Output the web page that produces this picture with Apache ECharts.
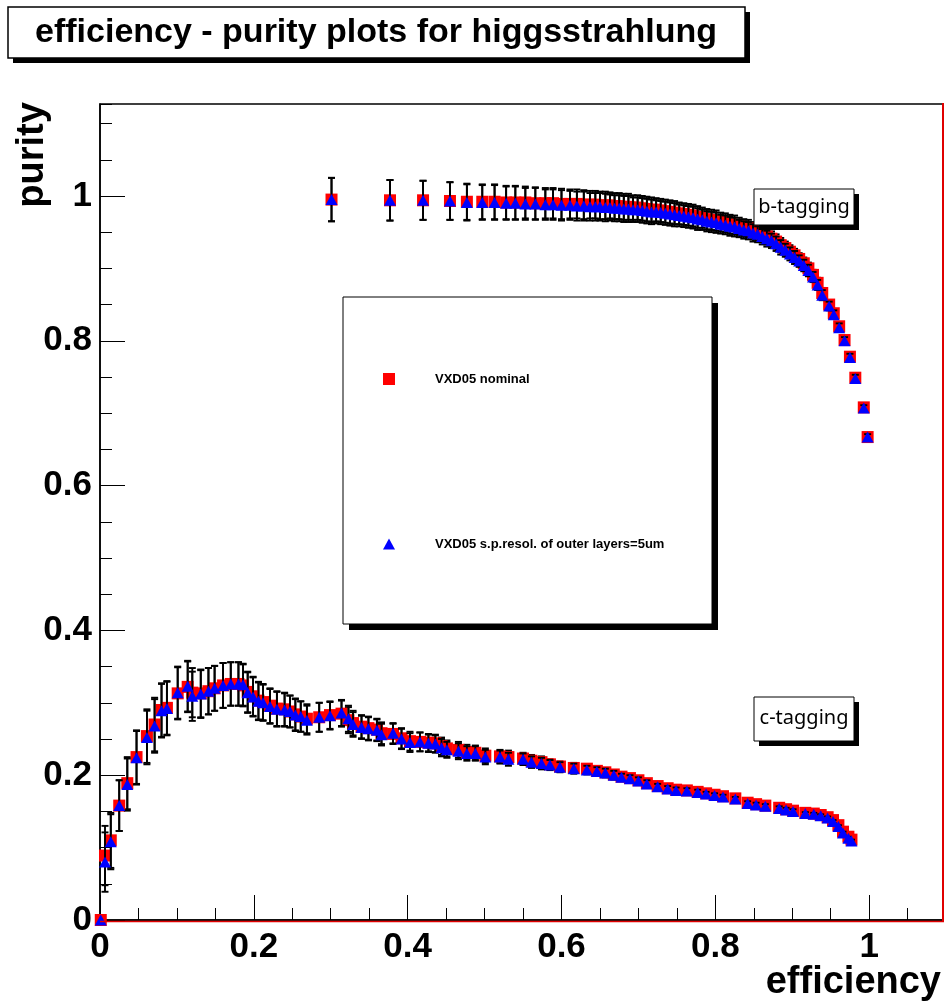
<!DOCTYPE html>
<html><head><meta charset="utf-8">
<script src="https://cdn.jsdelivr.net/npm/echarts@6/dist/echarts.min.js"></script>
<style>html,body{margin:0;padding:0;background:#fff}#c{width:946px;height:1005px}</style>
</head><body><div id="c"></div>
<script>
// ---- data ----
const titleText = 'efficiency - purity plots for higgsstrahlung';
const xTitle = 'efficiency';
const yTitle = 'purity';
const seriesNames = ['VXD05 nominal', 'VXD05 s.p.resol. of outer layers=5um'];

const bEff = [0.301,0.377,0.420,0.455,0.477,0.497,0.513,0.528,0.540,0.553,
  0.566,0.579,0.589,0.600,0.611,0.620,0.629,0.637,0.644,0.650,
  0.657,0.663,0.669,0.675,0.681,0.687,0.693,0.699,0.705,0.711,
  0.717,0.723,0.729,0.735,0.741,0.747,0.753,0.759,0.765,0.771,
  0.777,0.783,0.789,0.795,0.801,0.807,0.813,0.819,0.825,0.831,
  0.837,0.843,0.849,0.855,0.861,0.867,0.873,0.879,0.885,0.891,
  0.897,0.903,0.909,0.915,0.921,0.927,0.933,0.939,0.948,0.954,
  0.961,0.968,0.975,0.982,0.993,0.998];
const bPurNominal = [0.995,0.994,0.994,0.993,0.992,0.992,0.992,0.991,0.991,0.991,
  0.990,0.990,0.990,0.989,0.989,0.989,0.988,0.988,0.988,0.987,
  0.987,0.987,0.986,0.986,0.985,0.985,0.984,0.984,0.983,0.982,
  0.981,0.981,0.980,0.979,0.978,0.977,0.976,0.975,0.974,0.973,
  0.971,0.970,0.968,0.967,0.966,0.964,0.963,0.961,0.960,0.958,
  0.956,0.955,0.952,0.950,0.947,0.944,0.941,0.937,0.932,0.928,
  0.923,0.918,0.913,0.907,0.900,0.891,0.880,0.866,0.850,0.838,
  0.820,0.801,0.778,0.749,0.708,0.667];
const bPurRes = [0.995,0.994,0.994,0.993,0.991,0.991,0.991,0.990,0.990,0.989,
  0.989,0.988,0.988,0.987,0.987,0.986,0.986,0.985,0.985,0.985,
  0.984,0.984,0.983,0.983,0.982,0.982,0.981,0.981,0.980,0.979,
  0.978,0.978,0.977,0.976,0.975,0.974,0.973,0.972,0.971,0.970,
  0.968,0.967,0.965,0.964,0.963,0.961,0.960,0.958,0.957,0.955,
  0.953,0.952,0.949,0.947,0.944,0.941,0.938,0.934,0.929,0.925,
  0.920,0.915,0.910,0.904,0.897,0.888,0.877,0.863,0.848,0.836,
  0.818,0.800,0.777,0.748,0.707,0.667];
const bErr = [0.030,0.028,0.027,0.026,0.025,0.024,0.024,0.023,0.023,0.022,
  0.022,0.021,0.021,0.021,0.020,0.020,0.020,0.019,0.019,0.019,
  0.019,0.018,0.018,0.018,0.018,0.018,0.017,0.017,0.017,0.017,
  0.017,0.016,0.016,0.016,0.016,0.016,0.015,0.015,0.015,0.015,
  0.015,0.014,0.014,0.014,0.014,0.013,0.013,0.013,0.013,0.012,
  0.012,0.012,0.012,0.011,0.011,0.011,0.010,0.010,0.010,0.009,
  0.009,0.009,0.008,0.008,0.008,0.007,0.007,0.007,0.006,0.006,
  0.006,0.005,0.005,0.005,0.004,0.004];

const cEff = [0.001,0.0065,0.014,0.025,0.0355,0.0475,0.061,0.071,0.080,0.087,
  0.101,0.114,0.120,0.131,0.141,0.149,0.160,0.170,0.180,0.186,
  0.192,0.199,0.206,0.212,0.221,0.230,0.240,0.247,0.254,0.261,
  0.269,0.285,0.299,0.314,0.323,0.329,0.340,0.349,0.360,0.366,
  0.381,0.392,0.403,0.416,0.427,0.436,0.444,0.451,0.466,0.477,
  0.488,0.501,0.520,0.531,0.550,0.561,0.574,0.585,0.598,0.616,
  0.633,0.646,0.657,0.668,0.678,0.689,0.700,0.711,0.725,0.738,
  0.749,0.763,0.777,0.788,0.799,0.810,0.826,0.842,0.853,0.865,
  0.883,0.892,0.901,0.917,0.928,0.937,0.946,0.953,0.960,0.966,
  0.973,0.977];
const cPurNominal = [0.000,0.089,0.110,0.158,0.189,0.225,0.254,0.270,0.290,0.293,
  0.313,0.322,0.314,0.313,0.316,0.320,0.324,0.326,0.326,0.324,
  0.315,0.309,0.303,0.301,0.296,0.292,0.291,0.288,0.284,0.281,
  0.278,0.280,0.283,0.285,0.276,0.272,0.267,0.265,0.263,0.258,
  0.257,0.251,0.247,0.246,0.245,0.244,0.240,0.237,0.235,0.232,
  0.231,0.227,0.226,0.225,0.223,0.220,0.218,0.215,0.212,0.210,
  0.209,0.206,0.204,0.201,0.198,0.196,0.193,0.189,0.185,0.182,
  0.180,0.179,0.177,0.175,0.173,0.171,0.168,0.162,0.160,0.158,
  0.155,0.153,0.151,0.148,0.147,0.145,0.142,0.138,0.131,0.122,
  0.115,0.111];
const cPurRes = [0.000,0.080,0.108,0.158,0.187,0.224,0.252,0.268,0.289,0.292,
  0.314,0.323,0.309,0.312,0.316,0.320,0.324,0.326,0.326,0.325,
  0.314,0.308,0.302,0.300,0.295,0.291,0.290,0.288,0.283,0.281,
  0.276,0.280,0.282,0.286,0.278,0.270,0.266,0.264,0.262,0.256,
  0.258,0.250,0.245,0.246,0.244,0.243,0.238,0.235,0.233,0.230,
  0.230,0.225,0.225,0.222,0.222,0.218,0.216,0.214,0.211,0.209,
  0.207,0.205,0.203,0.200,0.197,0.195,0.192,0.188,0.184,0.181,
  0.179,0.178,0.176,0.174,0.172,0.170,0.167,0.161,0.159,0.157,
  0.154,0.152,0.150,0.147,0.146,0.144,0.141,0.136,0.129,0.120,
  0.113,0.109];
const cErr = [0.000,0.041,0.038,0.035,0.036,0.037,0.037,0.037,0.037,0.037,
  0.036,0.035,0.034,0.033,0.032,0.031,0.031,0.030,0.030,0.029,
  0.028,0.027,0.026,0.025,0.024,0.024,0.023,0.022,0.022,0.021,
  0.020,0.020,0.019,0.018,0.018,0.017,0.016,0.016,0.015,0.015,
  0.014,0.014,0.013,0.013,0.012,0.012,0.012,0.011,0.011,0.010,
  0.010,0.010,0.009,0.009,0.008,0.008,0.008,0.007,0.007,0.007,
  0.006,0.006,0.006,0.006,0.005,0.005,0.005,0.005,0.004,0.004,
  0.004,0.004,0.004,0.003,0.003,0.003,0.003,0.003,0.003,0.003,
  0.003,0.003,0.003,0.002,0.002,0.002,0.002,0.002,0.002,0.002,
  0.002,0.002];

// ---- chart ----
const FONT = '"Liberation Sans", Arial, Helvetica, sans-serif';
const chart = echarts.init(document.getElementById('c'), null, {renderer: 'canvas'});

function pts(xs, ys) { return xs.map((x, i) => [x, ys[i]]); }
function errPts(xs, ys, es) { return xs.map((x, i) => [x, ys[i], es[i]]); }
function errSeries(data, z) {
  return {
    type: 'custom', data: data, z: z, silent: true, animation: false,
    encode: {x: 0, y: 1},
    renderItem: function (params, api) {
      const x = api.value(0), y = api.value(1), e = api.value(2);
      if (!e) return null;
      const t = api.coord([x, y + e]), b = api.coord([x, y - e]);
      const cw = 3.5, st = {stroke: '#000', lineWidth: 1.9};
      return {type: 'group', children: [
        {type: 'line', shape: {x1: t[0], y1: t[1], x2: b[0], y2: b[1]}, style: st},
        {type: 'line', shape: {x1: t[0] - cw, y1: t[1], x2: t[0] + cw, y2: t[1]}, style: st},
        {type: 'line', shape: {x1: b[0] - cw, y1: b[1], x2: b[0] + cw, y2: b[1]}, style: st}
      ]};
    }
  };
}
function markSeries(name, data, symbol, size, color, z) {
  return {type: 'scatter', name: name, data: data, symbol: symbol, symbolSize: size,
    itemStyle: {color: color, opacity: 1}, z: z, silent: true, animation: false, clip: false};
}

const X_MAX = 1.096, Y_MAX = 1.127;
const labelStyle = {fontFamily: FONT, fontWeight: 'bold', fontSize: 35, color: '#000'};

const option = {
  backgroundColor: '#fff',
  animation: false,
  grid: {left: 100, right: 3, top: 104, bottom: 85, show: true, borderColor: '#000', borderWidth: 1.5},
  xAxis: [
    {type: 'value', min: 0, max: X_MAX, interval: 0.2, position: 'bottom',
      axisLine: {show: true, lineStyle: {color: '#000', width: 1.5}},
      axisTick: {inside: true, length: 25, lineStyle: {color: '#000', width: 1}},
      axisLabel: Object.assign({margin: 10, showMaxLabel: false}, labelStyle),
      splitLine: {show: false}},
    {type: 'value', min: 0, max: X_MAX, interval: 0.05, position: 'bottom',
      axisLine: {show: false},
      axisTick: {inside: true, length: 12, lineStyle: {color: '#000', width: 1}},
      axisLabel: {show: false}, splitLine: {show: false}}
  ],
  yAxis: [
    {type: 'value', min: 0, max: Y_MAX, interval: 0.2, position: 'left',
      axisLine: {show: true, lineStyle: {color: '#000', width: 1.5}},
      axisTick: {inside: true, length: 25, lineStyle: {color: '#000', width: 1}},
      axisLabel: Object.assign({margin: 8, showMaxLabel: false}, labelStyle),
      splitLine: {show: false}},
    {type: 'value', min: 0, max: Y_MAX, interval: 0.05, position: 'left',
      axisLine: {show: false},
      axisTick: {inside: true, length: 12, lineStyle: {color: '#000', width: 1}},
      axisLabel: {show: false}, splitLine: {show: false}}
  ],
  series: [
    errSeries(errPts(bEff, bPurNominal, bErr), 2),
    errSeries(errPts(cEff, cPurNominal, cErr), 2),
    markSeries(seriesNames[0], pts(bEff, bPurNominal), 'rect', 12, '#ff0000', 3),
    markSeries(seriesNames[0], pts(cEff, cPurNominal), 'rect', 12, '#ff0000', 3),
    errSeries(errPts(bEff, bPurRes, bErr), 4),
    errSeries(errPts(cEff, cPurRes, cErr), 4),
    markSeries(seriesNames[1], pts(bEff, bPurRes), 'triangle', [12, 11], '#0000ff', 5),
    markSeries(seriesNames[1], pts(cEff, cPurRes), 'triangle', [12, 11], '#0000ff', 5)
  ],
  graphic: [
    // red pad edges (right and bottom)
    {type: 'line', z: 50, shape: {x1: 943, y1: 103, x2: 943, y2: 922}, style: {stroke: '#e00000', lineWidth: 2}},
    {type: 'line', z: 50, shape: {x1: 100, y1: 921.5, x2: 944, y2: 921.5}, style: {stroke: '#e00000', lineWidth: 1.5}},
    // title box
    {type: 'rect', z: 60, shape: {x: 13, y: 12, width: 737, height: 51}, style: {fill: '#000'}},
    {type: 'rect', z: 61, shape: {x: 8, y: 7, width: 737, height: 51}, style: {fill: '#fff', stroke: '#000', lineWidth: 1.5}},
    {type: 'text', z: 62, x: 376, y: 33, style: {text: titleText, font: 'bold 34px ' + FONT, fill: '#000', align: 'center', verticalAlign: 'middle'}},
    // axis titles
    {type: 'text', z: 62, x: 33, y: 155, rotation: Math.PI / 2, style: {text: yTitle, font: 'bold 38px ' + FONT, fill: '#000', align: 'center', verticalAlign: 'middle'}},
    {type: 'text', z: 62, x: 941, y: 983, style: {text: xTitle, font: 'bold 38px ' + FONT, fill: '#000', align: 'right', verticalAlign: 'middle'}},
    // legend box
    {type: 'rect', z: 60, shape: {x: 349, y: 303, width: 369, height: 327}, style: {fill: '#000'}},
    {type: 'rect', z: 61, shape: {x: 343, y: 297, width: 369, height: 327}, style: {fill: '#fff', stroke: '#000', lineWidth: 1}},
    {type: 'rect', z: 62, shape: {x: 383, y: 373, width: 12, height: 12}, style: {fill: '#ff0000'}},
    {type: 'polygon', z: 62, shape: {points: [[389, 538.5], [383, 549.5], [395, 549.5]]}, style: {fill: '#0000ff'}},
    {type: 'text', z: 62, x: 435, y: 379, style: {text: seriesNames[0], font: 'bold 13px ' + FONT, fill: '#000', align: 'left', verticalAlign: 'middle'}},
    {type: 'text', z: 62, x: 435, y: 544, style: {text: seriesNames[1], font: 'bold 13px ' + FONT, fill: '#000', align: 'left', verticalAlign: 'middle'}},
    // b-tagging label
    {type: 'rect', z: 60, shape: {x: 759, y: 194, width: 100, height: 36}, style: {fill: '#000'}},
    {type: 'rect', z: 61, shape: {x: 754, y: 189, width: 100, height: 36}, style: {fill: '#fff', stroke: '#000', lineWidth: 1}},
    {type: 'text', z: 62, x: 804, y: 207, style: {text: 'b-tagging', font: '20px "Noto Sans", "DejaVu Sans", sans-serif', fill: '#000', align: 'center', verticalAlign: 'middle'}},
    // c-tagging label
    {type: 'rect', z: 60, shape: {x: 759, y: 702, width: 100, height: 44}, style: {fill: '#000'}},
    {type: 'rect', z: 61, shape: {x: 754, y: 697, width: 100, height: 44}, style: {fill: '#fff', stroke: '#000', lineWidth: 1}},
    {type: 'text', z: 62, x: 804, y: 718, style: {text: 'c-tagging', font: '20px "Noto Sans", "DejaVu Sans", sans-serif', fill: '#000', align: 'center', verticalAlign: 'middle'}}
  ]
};
chart.setOption(option);
</script>
</body></html>
